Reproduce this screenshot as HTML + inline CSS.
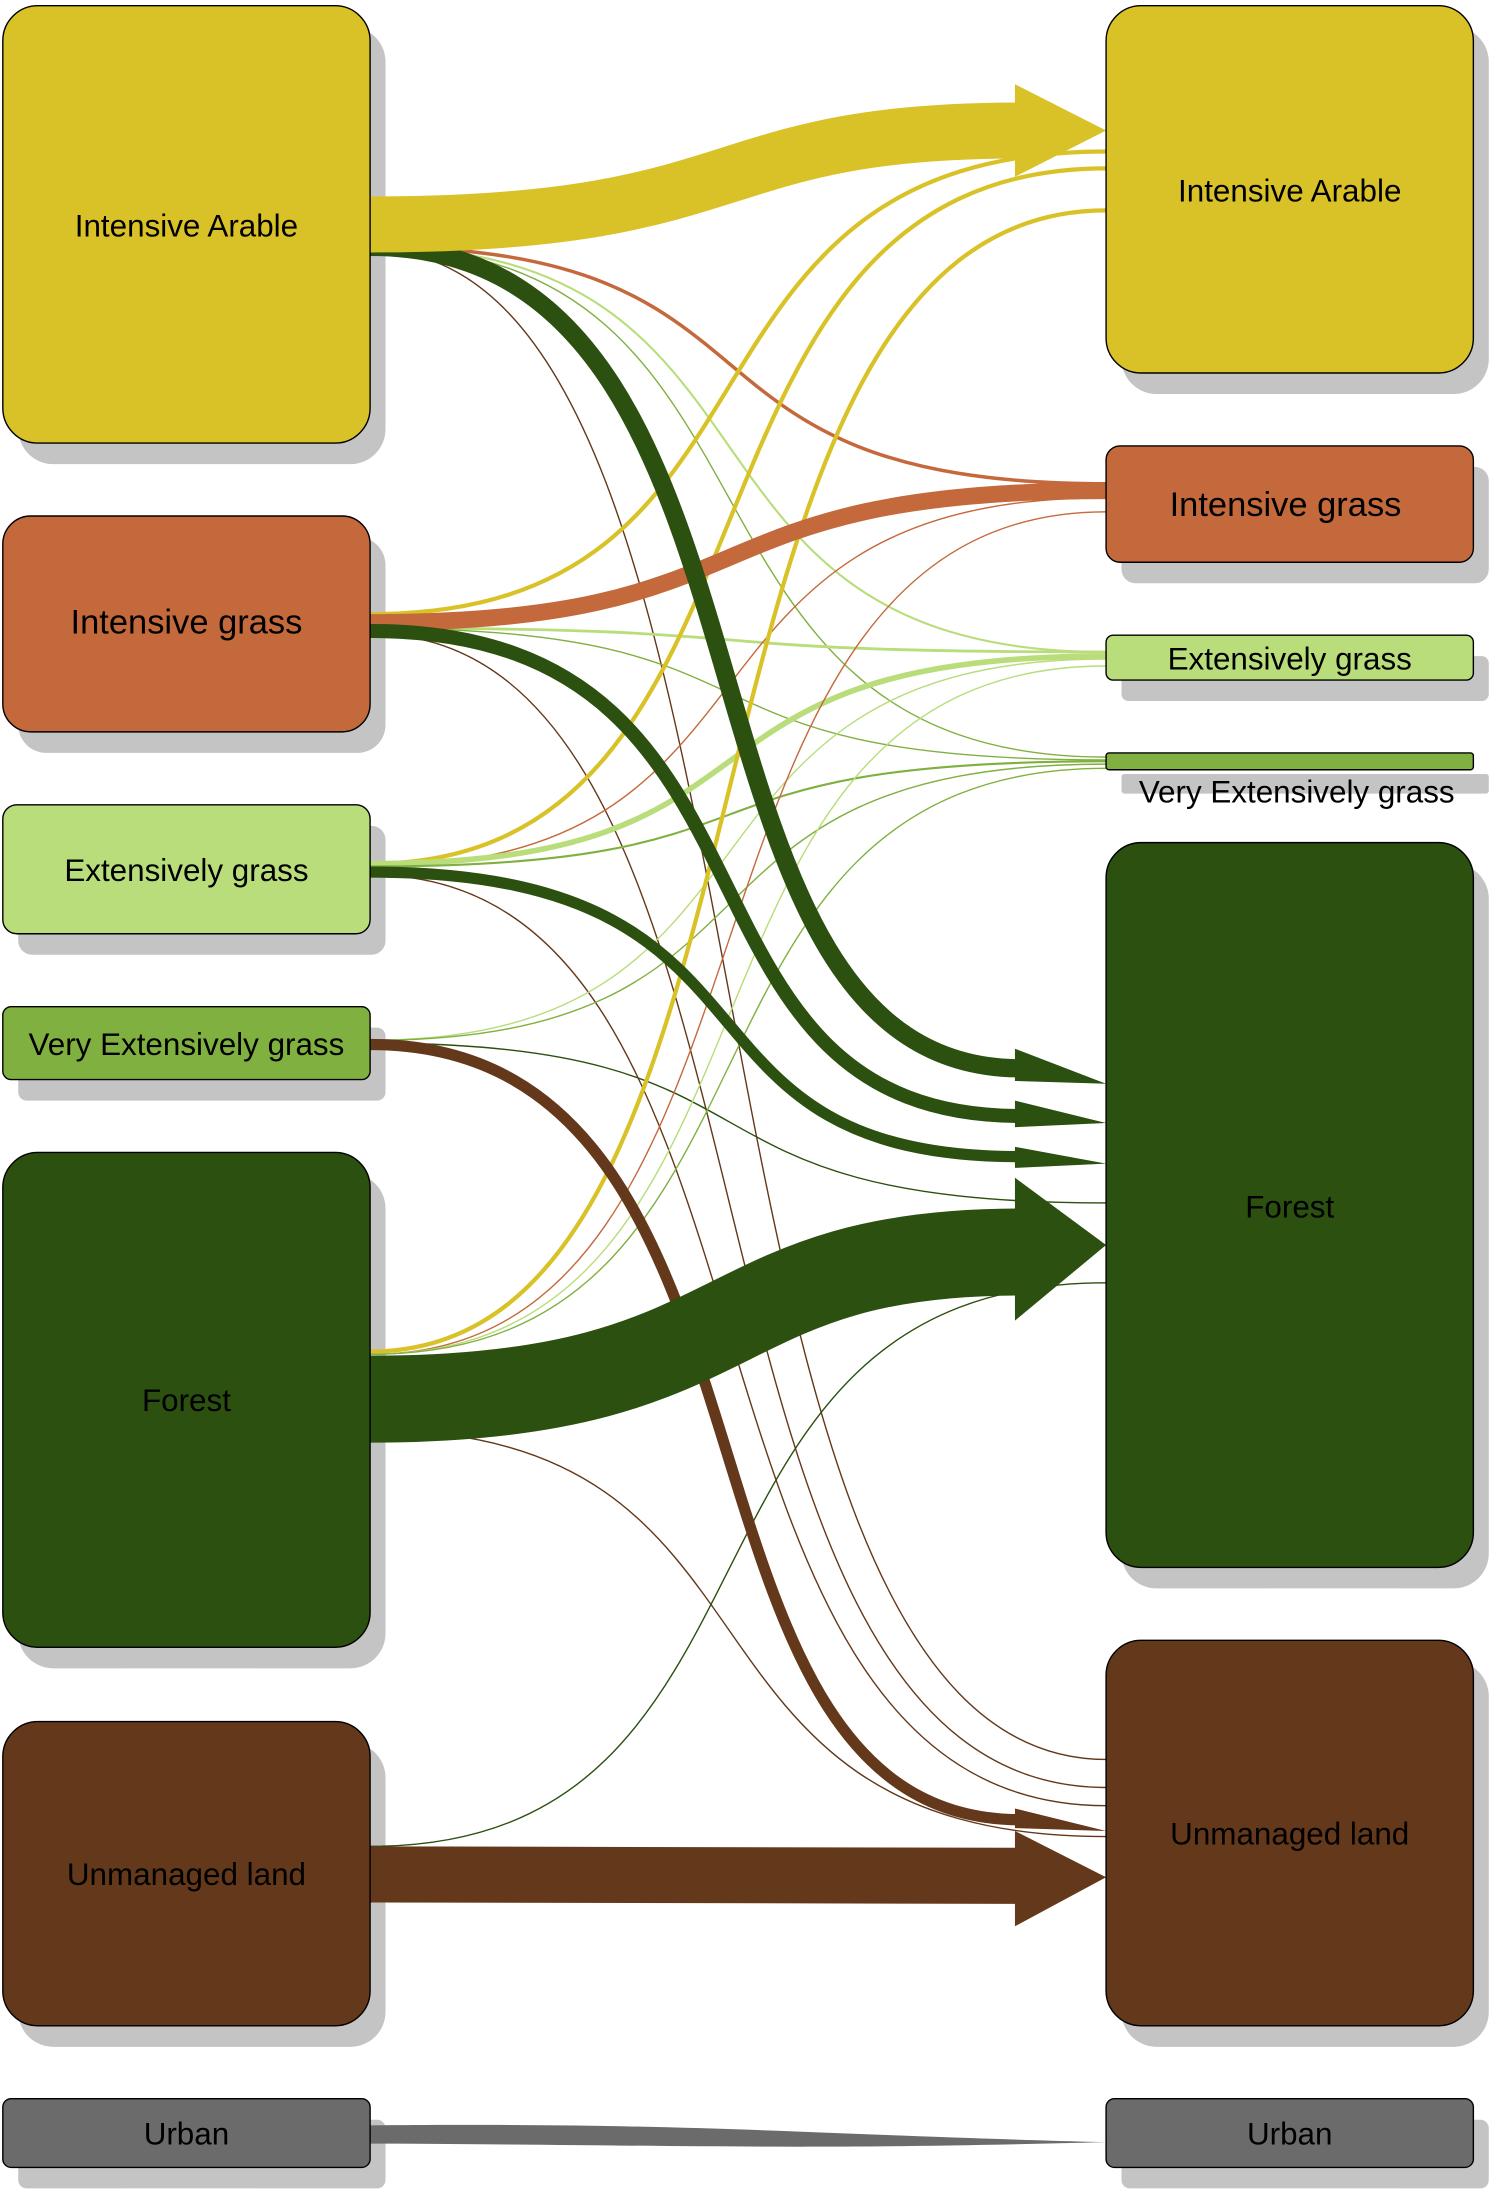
<!DOCTYPE html>
<html><head><meta charset="utf-8"><style>
html,body{margin:0;padding:0;background:#fff;}
svg{display:block;}
text{font-family:"Liberation Sans",Arial,sans-serif;text-anchor:middle;dominant-baseline:central;fill:#000;}
</style></head><body>
<svg width="1500" height="2202" viewBox="0 0 1070 1570.6" xmlns="http://www.w3.org/2000/svg">
<g fill="#c4c4c4">
<rect x="13" y="19" width="262" height="312" rx="25"/>
<rect x="13" y="383" width="262" height="154" rx="20"/>
<rect x="13" y="589" width="262" height="92" rx="10"/>
<rect x="13" y="733" width="262" height="52" rx="6"/>
<rect x="13" y="837" width="262" height="353" rx="25"/>
<rect x="13" y="1243" width="262" height="217" rx="25"/>
<rect x="13" y="1512" width="262" height="49" rx="6"/>
<rect x="800" y="19" width="262" height="262" rx="25"/>
<rect x="800" y="333" width="262" height="83" rx="10"/>
<rect x="800" y="468" width="262" height="32" rx="5"/>
<rect x="800" y="552" width="262" height="14" rx="2"/>
<rect x="800" y="616" width="262" height="517" rx="25"/>
<rect x="800" y="1185" width="262" height="275" rx="25"/>
<rect x="800" y="1512" width="262" height="49" rx="6"/>
</g>
<g fill="none">
<path d="M264 176 C580 176 460 345 789 345" stroke="#c4693c" stroke-width="2.5"/>
<path d="M264 176 C580 176 460 465 789 465" stroke="#b8dd7a" stroke-width="1.5"/>
<path d="M264 176 C580 176 460 540 789 540" stroke="#80b040" stroke-width="1"/>
<path d="M264 178 C580 178 460 1255 789 1255" stroke="#64381a" stroke-width="1"/>
<path d="M264 438 C580 438 460 108 789 108" stroke="#d9c228" stroke-width="3"/>
<path d="M264 448 C580 448 460 465 789 465" stroke="#b8dd7a" stroke-width="2"/>
<path d="M264 448 C580 448 460 542 789 542" stroke="#80b040" stroke-width="1"/>
<path d="M264 452 C580 452 460 1275 789 1275" stroke="#64381a" stroke-width="1"/>
<path d="M264 616 C580 616 460 120 789 120" stroke="#d9c228" stroke-width="3"/>
<path d="M264 618 C580 618 460 355 789 355" stroke="#c4693c" stroke-width="1"/>
<path d="M264 616 C580 616 460 468 789 468" stroke="#b8dd7a" stroke-width="4"/>
<path d="M264 618 C580 618 460 543 789 543" stroke="#80b040" stroke-width="1.5"/>
<path d="M264 624 C580 624 460 1288 789 1288" stroke="#64381a" stroke-width="1"/>
<path d="M264 742 C580 742 460 470 789 470" stroke="#b8dd7a" stroke-width="1"/>
<path d="M264 742 C580 742 460 545 789 545" stroke="#80b040" stroke-width="1"/>
<path d="M264 744 C580 744 460 858 789 858" stroke="#2b500f" stroke-width="1"/>
<path d="M264 964 C580 964 460 150 789 150" stroke="#d9c228" stroke-width="3"/>
<path d="M264 966 C580 966 460 365 789 365" stroke="#c4693c" stroke-width="1"/>
<path d="M264 966 C580 966 460 475 789 475" stroke="#b8dd7a" stroke-width="1"/>
<path d="M264 966 C580 966 460 548 789 548" stroke="#80b040" stroke-width="1"/>
<path d="M264 1020 C580 1020 460 1310 789 1310" stroke="#64381a" stroke-width="1"/>
<path d="M264 1317 C580 1317 460 915 789 915" stroke="#2b500f" stroke-width="1"/>
<path d="M264 444 C560 444 480 350 789 350" stroke="#c4693c" stroke-width="12"/>
<path d="M264 176 C580 176 460 762 728 762" stroke="#2b500f" stroke-width="13"/>
<path d="M264 450 C580 450 460 796 728 796" stroke="#2b500f" stroke-width="10"/>
<path d="M264 622 C580 622 460 825 728 825" stroke="#2b500f" stroke-width="8"/>
<path d="M264 745 C580 745 460 1298 728 1298" stroke="#64381a" stroke-width="8"/>
<path d="M264 160 C540 160 500 93 728 93" stroke="#d9c228" stroke-width="40"/>
<path d="M264 998 C540 998 500 893 728 893" stroke="#2b500f" stroke-width="62"/>
<path d="M264 1337 L728 1338" stroke="#64381a" stroke-width="40"/>
</g>
<g>
<polygon points="724,60 789,93 724,126" fill="#d9c228"/>
<polygon points="724,748 789,773 724,771" fill="#2b500f"/>
<polygon points="724,785 789,801 724,804" fill="#2b500f"/>
<polygon points="724,818 789,830 724,833" fill="#2b500f"/>
<polygon points="724,840 789,888 724,942" fill="#2b500f"/>
<polygon points="724,1290 789,1306 724,1304" fill="#64381a"/>
<polygon points="724,1306 789,1339 724,1374" fill="#64381a"/>
<path d="M264 1516 C500 1514 560 1522 789 1528 C560 1534 500 1530 264 1529 Z" fill="#6b6b6b"/>
</g>
<g stroke="#000" stroke-width="1">
<rect x="2" y="4" width="262" height="312" rx="25" fill="#d9c228"/>
<rect x="2" y="368" width="262" height="154" rx="20" fill="#c4693c"/>
<rect x="2" y="574" width="262" height="92" rx="10" fill="#b8dd7a"/>
<rect x="2" y="718" width="262" height="52" rx="6" fill="#80b040"/>
<rect x="2" y="822" width="262" height="353" rx="25" fill="#2b500f"/>
<rect x="2" y="1228" width="262" height="217" rx="25" fill="#64381a"/>
<rect x="2" y="1497" width="262" height="49" rx="6" fill="#6b6b6b"/>
<rect x="789" y="4" width="262" height="262" rx="25" fill="#d9c228"/>
<rect x="789" y="318" width="262" height="83" rx="10" fill="#c4693c"/>
<rect x="789" y="453" width="262" height="32" rx="5" fill="#b8dd7a"/>
<rect x="789" y="537" width="262" height="12" rx="2" fill="#80b040"/>
<rect x="789" y="601" width="262" height="517" rx="25" fill="#2b500f"/>
<rect x="789" y="1170" width="262" height="275" rx="25" fill="#64381a"/>
<rect x="789" y="1497" width="262" height="49" rx="6" fill="#6b6b6b"/>
</g>
<g font-size="22.4">
<text x="133" y="161">Intensive Arable</text>
<text x="133" y="444" font-size="24.6">Intensive grass</text>
<text x="133" y="621">Extensively grass</text>
<text x="133" y="745">Very Extensively grass</text>
<text x="133" y="999">Forest</text>
<text x="133" y="1337">Unmanaged land</text>
<text x="133" y="1522">Urban</text>
<text x="920" y="136">Intensive Arable</text>
<text x="917" y="360" font-size="24.6">Intensive grass</text>
<text x="920" y="470">Extensively grass</text>
<text x="925" y="565">Very Extensively grass</text>
<text x="920" y="861">Forest</text>
<text x="920" y="1308">Unmanaged land</text>
<text x="920" y="1522">Urban</text>
</g>
</svg>
</body></html>
